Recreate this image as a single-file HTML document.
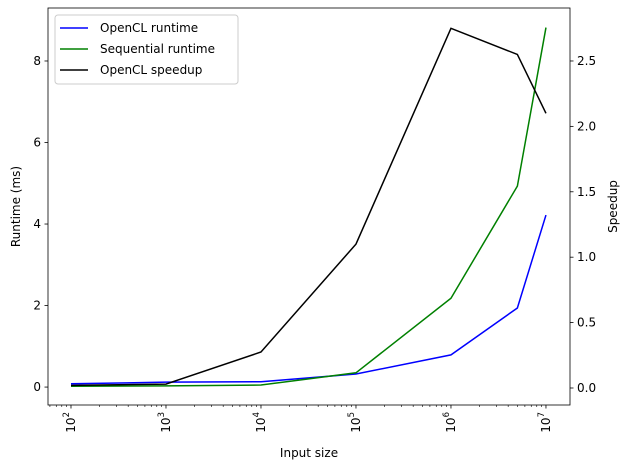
<!DOCTYPE html>
<html><head><meta charset="utf-8"><style>
body{margin:0;background:#fff;}
svg text{font-family:"DejaVu Sans","Liberation Sans",sans-serif;font-size:12px;fill:#000;}
</style></head><body>
<svg id="chart" width="630" height="470" xmlns="http://www.w3.org/2000/svg"></svg>
<script>
const inputSizes=[1e2,1e3,1e4,1e5,1e6,5e6,1e7];
const openclRuntime=[0.08,0.12,0.13,0.32,0.79,1.94,4.22];
const sequentialRuntime=[0.02,0.03,0.05,0.35,2.18,4.93,8.82];
const openclSpeedup=[0.02,0.03,0.275,1.10,2.75,2.55,2.10];
const leftTicks=[0,2,4,6,8];
const rightTicks=[0.0,0.5,1.0,1.5,2.0,2.5];
const xTickExps=[2,3,4,5,6,7];

const L=48,R=570,T=8,B=405;
const xmin=1.758,xmax=7.253;
const X=v=>L+(Math.log10(v)-xmin)/(xmax-xmin)*(R-L);
const YL=v=>B-(v-(-0.44))/(9.30-(-0.44))*(B-T);
const YR=v=>B-(v-(-0.13))/(2.905-(-0.13))*(B-T);
const svg=document.getElementById('chart');
const NS='http://www.w3.org/2000/svg';
function mk(tag,attrs,parent){const e=document.createElementNS(NS,tag);for(const k in attrs)e.setAttribute(k,attrs[k]);(parent||svg).appendChild(e);return e;}

function line(vals,yf,color,name){
  const d=vals.map((v,i)=>(i?'L':'M')+X(inputSizes[i]).toFixed(2)+','+yf(v).toFixed(2)).join(' ');
  const p=mk('path',{d:d,fill:'none',stroke:color,'stroke-width':1.5});
  
  
}
line(openclRuntime,YL,'#0000ff','opencl-runtime-line');
line(sequentialRuntime,YL,'#008000','sequential-runtime-line');
line(openclSpeedup,YR,'#000000','opencl-speedup-line');

const fr=mk('rect',{x:L,y:T,width:R-L,height:B-T,fill:'none',stroke:'#000','stroke-width':0.8});



for(let e=1;e<=7;e++){
  for(let m=1;m<10;m++){
    const v=m*Math.pow(10,e);const lv=Math.log10(v);
    if(lv<xmin||lv>xmax)continue;
    const x=X(v);
    mk('line',{x1:x,x2:x,y1:B,y2:B+(m===1?3.5:2),stroke:'#000','stroke-width':m===1?0.8:0.6});
  }
}
xTickExps.forEach(e=>{
  const x=X(Math.pow(10,e));
  const t=mk('text',{transform:`translate(${x+4},${B+7}) rotate(-90)`,'text-anchor':'end'});
  
  
  t.innerHTML='10<tspan dy="-6" font-size="8.5">'+e+'</tspan>';
});
leftTicks.forEach(v=>{
  const y=YL(v);
  mk('line',{x1:L-3.5,x2:L,y1:y,y2:y,stroke:'#000','stroke-width':0.8});
  const t=mk('text',{x:L-7,y:y+4,'text-anchor':'end'});
  
  
  t.textContent=v;
});
rightTicks.forEach(v=>{
  const y=YR(v);
  mk('line',{x1:R,x2:R+3.5,y1:y,y2:y,stroke:'#000','stroke-width':0.8});
  const t=mk('text',{x:R+7,y:y+4});
  
  
  t.textContent=v.toFixed(1);
});
let t=mk('text',{x:(L+R)/2,y:457,'text-anchor':'middle'});t.textContent='Input size';

t=mk('text',{transform:`translate(20,${(T+B)/2}) rotate(-90)`,'text-anchor':'middle'});t.textContent='Runtime (ms)';

t=mk('text',{transform:`translate(617,${(T+B)/2}) rotate(-90)`,'text-anchor':'middle'});t.textContent='Speedup';


const lg=mk('g',{});


mk('rect',{x:55,y:15,width:183,height:69,rx:3,fill:'#fff','fill-opacity':0.8,stroke:'#ccc'},lg);
[['OpenCL runtime','#0000ff'],['Sequential runtime','#008000'],['OpenCL speedup','#000']].forEach((it,i)=>{
  const y=28+i*21;
  const g=mk('g',{},lg);
  
  
  mk('line',{x1:60,x2:88,y1:y,y2:y,stroke:it[1],'stroke-width':1.5},g);
  const tx=mk('text',{x:100,y:y+4},g);tx.textContent=it[0];
});
</script>
</body></html>
